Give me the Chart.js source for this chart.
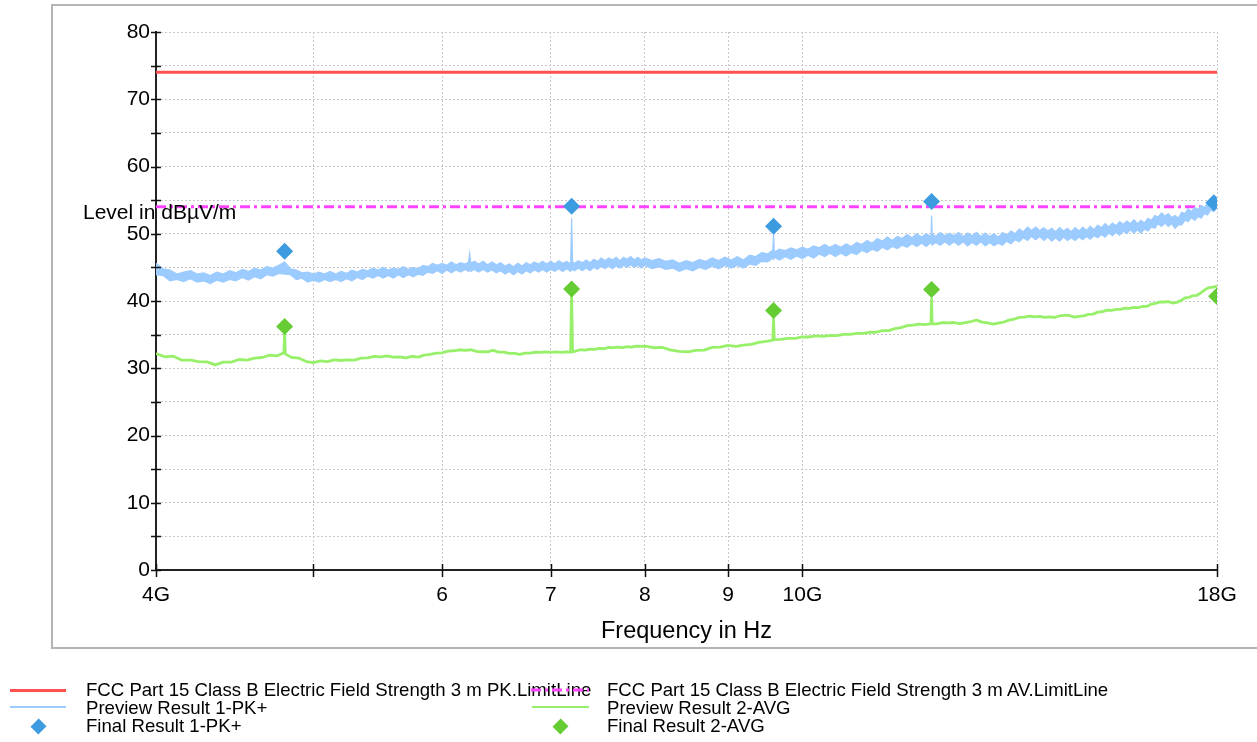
<!DOCTYPE html>
<html>
<head>
<meta charset="utf-8">
<script src="https://cdn.jsdelivr.net/npm/chart.js@4.4.1/dist/chart.umd.min.js"></script>
<style>
  html, body { margin: 0; padding: 0; background: #fff; }
  #wrap { position: relative; width: 1257px; height: 742px; overflow: hidden; }
  #c { position: absolute; left: 0; top: 0; }
  .lg { position: absolute; font-family: 'Liberation Sans', Arial, sans-serif; font-size: 18.6px; line-height: 18px; color: #000; white-space: nowrap; }
  .ln { position: absolute; height: 0; }
  .dm { position: absolute; width: 11px; height: 11px; transform: rotate(45deg) scaleY(1.05); }
</style>
</head>
<body>
<div id="wrap">
  <canvas id="c" width="1257" height="742"></canvas>
  <div class="ln" style="left:10px;top:688.5px;width:56px;border-top:3px solid #ff5050;"></div>
  <div class="lg" style="left:86px;top:681px;">FCC Part 15 Class B Electric Field Strength 3 m PK.LimitLine</div>
  <div class="ln" style="left:10px;top:706px;width:56px;border-top:2px solid #9ccbff;"></div>
  <div class="lg" style="left:86px;top:699px;">Preview Result 1-PK+</div>
  <div class="dm" style="left:32.5px;top:720.5px;background:#3d9be0;"></div>
  <div class="lg" style="left:86px;top:717px;">Final Result 1-PK+</div>
  <svg style="position:absolute;left:531px;top:686px;" width="58" height="8"><line x1="0" y1="4" x2="58" y2="4" stroke="#ff44ff" stroke-width="3" stroke-dasharray="10,4,3,4"/></svg>
  <div class="lg" style="left:607px;top:681px;">FCC Part 15 Class B Electric Field Strength 3 m AV.LimitLine</div>
  <div class="ln" style="left:532px;top:706px;width:57px;border-top:2px solid #98f06a;"></div>
  <div class="lg" style="left:607px;top:699px;">Preview Result 2-AVG</div>
  <div class="dm" style="left:554.5px;top:720.5px;background:#66cc33;"></div>
  <div class="lg" style="left:607px;top:717px;">Final Result 2-AVG</div>
</div>
<script>
// ---------- data (frequency in GHz, level in dBµV/m) ----------
const xTickValues = [4, 5, 6, 7, 8, 9, 10, 18];
const xTickLabels = ['4G', '', '6', '7', '8', '9', '10G', '18G'];
const yTickValues = [0, 5, 10, 15, 20, 25, 30, 35, 40, 45, 50, 55, 60, 65, 70, 75, 80];
const yTickLabels = ['0', '', '10', '', '20', '', '30', '', '40', '', '50', '', '60', '', '70', '', '80'];

const limitFreq = [4, 18];
const pkLimit = [74, 74];
const avLimit = [54, 54];

const pkFinalFreq = [4.80, 7.21, 9.60, 12.01, 17.92];
const pkFinalLevel = [47.4, 54.1, 51.1, 54.8, 54.6];
const avFinalFreq = [4.80, 7.21, 9.60, 12.01, 17.99];
const avFinalLevel = [36.2, 41.8, 38.6, 41.7, 40.7];

// Preview Result 1-PK+ : [frequency, lower edge of noise band, upper edge of noise band]
const pkPreviewBand = [
[4.00,43.9,45.6],[4.04,43.8,44.8],[4.08,43.0,44.6],[4.12,43.2,44.0],[4.16,42.9,44.3],[4.20,43.3,44.5],[4.24,42.8,44.0],[4.28,43.0,44.2],
[4.32,42.6,43.8],[4.36,43.1,44.3],[4.40,42.8,44.0],[4.44,43.2,44.5],[4.48,43.0,44.2],[4.52,43.5,44.7],[4.56,43.1,44.4],[4.60,43.6,44.9],
[4.64,43.3,44.6],[4.68,43.9,45.1],[4.72,43.7,44.9],[4.76,44.1,45.3],[4.80,44.0,45.8],[4.84,43.9,44.8],[4.88,43.2,44.6],[4.92,43.4,44.2],
[4.96,42.8,44.3],[5.00,43.1,44.0],[5.04,42.8,44.3],[5.08,43.2,44.0],[5.12,42.9,44.4],[5.16,43.2,44.0],[5.20,42.9,44.4],[5.24,43.3,44.1],
[5.28,43.0,44.6],[5.32,43.5,44.3],[5.36,43.2,44.7],[5.40,43.7,44.5],[5.44,43.4,44.9],[5.48,43.8,44.6],[5.52,43.4,45.0],[5.56,43.8,44.6],
[5.60,43.4,44.9],[5.64,43.9,44.7],[5.68,43.5,45.1],[5.72,43.9,44.7],[5.76,43.6,45.0],[5.80,44.0,44.8],[5.84,43.8,45.3],[5.88,44.3,45.1],
[5.92,44.1,45.6],[5.96,44.5,45.3],[6.00,44.1,45.6],[6.04,44.6,45.3],[6.08,44.2,45.8],[6.12,44.6,45.4],[6.16,44.3,45.7],[6.20,44.7,45.5],
[6.23,44.4,45.8],[6.24,44.7,47.1],[6.25,44.4,45.6],[6.28,44.7,45.9],[6.32,44.3,45.5],[6.36,44.7,45.9],[6.40,44.3,45.4],[6.44,44.6,45.8],
[6.48,44.2,45.4],[6.52,44.5,45.7],[6.56,44.0,45.2],[6.60,44.4,45.5],[6.64,43.9,45.1],[6.68,44.4,45.6],[6.72,44.0,45.2],[6.76,44.5,45.7],
[6.80,44.2,45.4],[6.84,44.6,45.8],[6.88,44.3,45.5],[6.92,44.7,45.9],[6.96,44.3,45.5],[7.00,44.7,45.9],[7.04,44.4,45.5],[7.08,44.8,46.0],
[7.12,44.4,45.6],[7.16,44.8,45.9],[7.20,44.4,45.5],[7.21,44.7,52.3],[7.22,44.7,45.8],[7.24,44.5,45.6],[7.28,44.9,46.0],[7.32,44.5,45.7],
[7.36,44.9,46.1],[7.40,44.5,45.7],[7.44,45.0,46.2],[7.48,44.7,45.9],[7.52,45.2,46.4],[7.56,44.8,46.0],[7.60,45.2,46.4],[7.64,44.8,46.1],
[7.68,45.2,46.5],[7.72,44.9,46.0],[7.76,45.3,46.5],[7.80,45.0,46.2],[7.84,45.4,46.6],[7.88,45.0,46.1],[7.92,45.3,46.5],[7.96,44.9,46.1],
[8.00,45.3,46.4],[8.08,44.8,46.0],[8.16,45.1,46.3],[8.24,44.7,45.9],[8.32,44.9,46.1],[8.40,44.4,45.6],[8.48,44.8,46.0],[8.56,44.5,45.7],
[8.64,45.0,46.2],[8.72,44.7,45.9],[8.80,45.2,46.4],[8.88,44.8,46.0],[8.96,45.3,46.5],[9.04,44.9,46.1],[9.12,45.3,46.6],[9.20,44.9,46.1],
[9.28,45.5,46.8],[9.36,45.3,46.6],[9.44,45.9,47.2],[9.52,45.8,47.0],[9.59,46.4,47.6],[9.60,46.2,50.2],[9.61,46.5,47.3],[9.68,46.1,47.7],
[9.76,46.6,47.5],[9.84,46.2,47.9],[9.92,46.7,47.6],[10.00,46.3,48.0],[10.08,46.8,47.7],[10.16,46.4,48.2],[10.24,47.0,47.9],[10.32,46.6,48.4],
[10.40,47.1,48.0],[10.48,46.6,48.4],[10.56,47.1,48.0],[10.64,46.7,48.5],[10.72,47.2,48.1],[10.80,46.9,48.7],[10.88,47.5,48.4],[10.96,47.2,49.0],
[11.04,47.7,48.6],[11.12,47.4,49.3],[11.20,48.0,48.9],[11.28,47.6,49.5],[11.36,48.1,49.0],[11.44,47.8,49.6],[11.52,48.3,49.3],[11.60,48.0,49.9],
[11.68,48.5,49.4],[11.76,48.1,50.0],[11.84,48.6,49.5],[11.92,48.1,50.0],[12.00,48.7,49.6],[12.01,48.5,52.7],[12.02,48.3,50.0],[12.08,48.7,49.6],
[12.16,48.3,50.2],[12.24,48.8,49.7],[12.32,48.3,50.1],[12.40,48.8,49.7],[12.48,48.3,50.2],[12.56,48.8,49.6],[12.64,48.2,50.1],[12.72,48.7,49.7],
[12.80,48.3,50.2],[12.88,48.8,49.6],[12.96,48.2,50.1],[13.04,48.7,49.6],[13.12,48.2,50.0],[13.20,48.6,49.5],[13.28,48.3,50.2],[13.36,48.9,49.8],
[13.44,48.5,50.4],[13.52,49.1,50.0],[13.60,48.8,50.7],[13.68,49.4,50.3],[13.76,49.0,51.0],[13.84,49.6,50.5],[13.92,49.1,51.0],[14.00,49.6,50.5],
[14.08,49.0,50.9],[14.16,49.5,50.4],[14.24,48.9,50.8],[14.32,49.4,50.3],[14.40,48.9,50.9],[14.48,49.5,50.4],[14.56,49.0,50.8],[14.64,49.4,50.3],
[14.72,49.0,50.9],[14.80,49.5,50.4],[14.88,49.1,51.0],[14.96,49.6,50.5],[15.04,49.2,51.1],[15.12,49.7,50.6],[15.20,49.4,51.3],[15.28,49.9,50.9],
[15.36,49.5,51.5],[15.44,50.1,51.0],[15.52,49.7,51.6],[15.60,50.2,51.2],[15.68,49.8,51.8],[15.76,50.4,51.4],[15.84,50.0,51.9],[15.92,50.6,51.5],
[16.00,50.1,52.1],[16.08,50.6,51.5],[16.16,50.1,52.0],[16.24,50.7,51.6],[16.32,50.4,52.3],[16.40,51.0,52.0],[16.48,50.8,52.7],[16.56,51.5,52.5],
[16.64,51.1,53.1],[16.72,51.6,52.6],[16.80,51.1,53.0],[16.88,51.5,52.4],[16.96,50.8,52.7],[17.04,51.3,52.3],[17.12,51.3,53.2],[17.20,52.0,53.0],
[17.28,51.8,53.7],[17.36,52.4,53.3],[17.44,52.0,53.9],[17.52,52.6,53.6],[17.60,52.3,54.2],[17.68,53.0,53.9],[17.76,52.8,54.6],[17.84,53.5,54.4],
[17.92,53.3,55.0],[18.00,54.0,55.1]
];

// Preview Result 2-AVG : [frequency, level]
const avPreview = [
[4.00,32.2],[4.05,31.7],[4.10,31.8],[4.15,31.2],[4.20,31.2],[4.25,31.0],[4.30,30.95],[4.35,30.5],[4.40,30.9],[4.45,30.9],
[4.50,31.3],[4.55,31.2],[4.60,31.5],[4.65,31.6],[4.70,31.95],[4.75,31.85],[4.795,32.3],[4.80,35.5],[4.805,32.1],[4.85,31.6],
[4.90,31.5],[4.95,31.0],[5.00,30.85],[5.05,31.1],[5.10,31.0],[5.15,31.25],[5.20,31.15],[5.25,31.25],[5.30,31.2],[5.35,31.5],
[5.40,31.55],[5.45,31.75],[5.50,31.7],[5.55,31.85],[5.60,31.65],[5.65,31.7],[5.70,31.55],[5.75,31.75],[5.80,31.65],[5.85,31.95],
[5.90,32.05],[5.95,32.25],[6.00,32.3],[6.05,32.55],[6.10,32.6],[6.15,32.75],[6.20,32.65],[6.25,32.75],[6.30,32.5],[6.35,32.45],
[6.40,32.45],[6.45,32.65],[6.50,32.4],[6.55,32.4],[6.60,32.2],[6.65,32.2],[6.70,32.05],[6.75,32.25],[6.80,32.25],[6.85,32.4],
[6.90,32.35],[6.95,32.45],[7.00,32.35],[7.05,32.45],[7.10,32.35],[7.15,32.45],[7.20,32.4],[7.21,41.3],[7.22,32.45],[7.25,32.55],
[7.30,32.75],[7.35,32.7],[7.40,32.85],[7.45,32.8],[7.50,32.95],[7.55,32.9],[7.60,33.1],[7.65,33.05],[7.70,33.15],[7.75,33.05],
[7.80,33.2],[7.85,33.15],[7.90,33.3],[7.95,33.25],[8.00,33.3],[8.10,33.05],[8.20,33.1],[8.30,32.7],[8.40,32.5],[8.50,32.45],
[8.60,32.65],[8.70,32.7],[8.80,33.1],[8.90,33.15],[9.00,33.4],[9.10,33.25],[9.20,33.45],[9.30,33.55],[9.40,33.85],[9.50,34.0],
[9.59,34.2],[9.60,37.3],[9.61,34.25],[9.70,34.3],[9.80,34.45],[9.90,34.45],[10.00,34.65],[10.10,34.65],[10.20,34.8],[10.30,34.75],
[10.40,34.9],[10.50,34.85],[10.60,35.05],[10.70,35.05],[10.80,35.2],[10.90,35.2],[11.00,35.35],[11.10,35.35],[11.20,35.6],[11.30,35.6],
[11.40,35.9],[11.50,36.05],[11.60,36.35],[11.70,36.4],[11.80,36.55],[11.90,36.5],[12.00,36.65],[12.01,40.3],[12.02,36.6],[12.10,36.6],
[12.20,36.8],[12.30,36.75],[12.40,36.8],[12.50,36.65],[12.60,36.8],[12.70,36.95],[12.80,37.15],[12.90,36.85],[13.00,36.75],[13.10,36.55],
[13.20,36.7],[13.30,36.85],[13.40,37.15],[13.50,37.3],[13.60,37.55],[13.70,37.6],[13.80,37.75],[13.90,37.65],[14.00,37.7],[14.10,37.55],
[14.20,37.65],[14.30,37.55],[14.40,37.8],[14.50,37.85],[14.60,37.85],[14.70,37.6],[14.80,37.7],[14.90,37.8],[15.00,38.0],[15.10,38.05],
[15.20,38.35],[15.30,38.4],[15.40,38.65],[15.50,38.6],[15.60,38.75],[15.70,38.75],[15.80,38.95],[15.90,38.9],[16.00,39.05],[16.10,39.0],
[16.20,39.2],[16.30,39.2],[16.40,39.55],[16.50,39.65],[16.60,39.85],[16.70,39.85],[16.80,39.9],[16.90,39.7],[17.00,39.8],[17.10,40.05],
[17.20,40.45],[17.30,40.55],[17.40,40.8],[17.50,40.85],[17.60,41.25],[17.70,41.7],[17.80,42.0],[17.90,42.05],[18.00,42.2]
];

// ---------- chart ----------
const FONT = "'Liberation Sans', Arial, sans-serif";
Chart.defaults.font.family = FONT;
Chart.defaults.color = '#000';

const zipXY = (xs, ys) => xs.map((x, i) => ({ x: x, y: ys[i] }));
const pairsXY = (arr) => arr.map(p => ({ x: p[0], y: p[1] }));
const bandLo = (arr) => arr.map(p => ({ x: p[0], y: p[1] }));
const bandHi = (arr) => arr.map(p => ({ x: p[0], y: p[2] }));

const PK_BLUE = '#9ccbff';

const framePlugin = {
  id: 'frame',
  beforeDraw(chart) {
    const ctx = chart.ctx;
    ctx.save();
    ctx.strokeStyle = '#b4b4b4';
    ctx.lineWidth = 2;
    ctx.strokeRect(52, 5, 1230, 643);
    ctx.restore();
  }
};

const axisDecor = {
  id: 'axisDecor',
  afterDraw(chart) {
    const ctx = chart.ctx;
    const xs = chart.scales.x, ys = chart.scales.y;
    const a = chart.chartArea;
    ctx.save();
    ctx.strokeStyle = '#111';
    ctx.lineWidth = 1.5;
    ctx.beginPath();
    ys.ticks.forEach((t, i) => {
      const py = Math.round(ys.getPixelForTick(i)) + 0.5;
      ctx.moveTo(a.left - 5, py); ctx.lineTo(a.left + 5, py);
    });
    xs.ticks.forEach((t, i) => {
      const px = Math.round(xs.getPixelForTick(i)) + 0.5;
      ctx.moveTo(px, a.bottom - 6); ctx.lineTo(px, a.bottom + 7);
    });
    ctx.stroke();
    ctx.fillStyle = '#000';
    ctx.font = '21px ' + FONT;
    ctx.textBaseline = 'middle';
    ctx.textAlign = 'left';
    ctx.fillText('Level in dBµV/m', 83, 213);
    ctx.restore();
  }
};

new Chart(document.getElementById('c'), {
  type: 'line',
  data: {
    datasets: [
      { label: 'Final Result 1-PK+', data: zipXY(pkFinalFreq, pkFinalLevel), showLine: false,
        pointStyle: 'rectRot', pointRadius: 8.5, pointBackgroundColor: '#3d9be0', pointBorderColor: '#3d9be0', pointBorderWidth: 0, order: 0 },
      { label: 'Final Result 2-AVG', data: zipXY(avFinalFreq, avFinalLevel), showLine: false,
        pointStyle: 'rectRot', pointRadius: 8.5, pointBackgroundColor: '#66cc33', pointBorderColor: '#66cc33', pointBorderWidth: 0, order: 1 },
      { label: 'Preview Result 1-PK+ (low)', data: bandLo(pkPreviewBand), borderColor: PK_BLUE, borderWidth: 1.2,
        pointRadius: 0, tension: 0, fill: false, order: 2 },
      { label: 'Preview Result 1-PK+', data: bandHi(pkPreviewBand), borderColor: PK_BLUE, borderWidth: 1.2,
        backgroundColor: PK_BLUE, pointRadius: 0, tension: 0, fill: '-1', order: 2 },
      { label: 'Preview Result 2-AVG', data: pairsXY(avPreview), borderColor: '#98f06a', borderWidth: 2.8,
        pointRadius: 0, tension: 0, borderJoinStyle: 'round', order: 3 },
      { label: 'FCC Part 15 Class B Electric Field Strength 3 m AV.LimitLine', data: zipXY(limitFreq, avLimit),
        borderColor: '#ff44ff', borderWidth: 3, borderDash: [10, 4, 3, 4], pointRadius: 0, order: 4 },
      { label: 'FCC Part 15 Class B Electric Field Strength 3 m PK.LimitLine', data: zipXY(limitFreq, pkLimit),
        borderColor: '#ff5050', borderWidth: 3, pointRadius: 0, order: 5 }
    ]
  },
  options: {
    responsive: false,
    animation: false,
    events: [],
    layout: { padding: { top: 32, right: 40, bottom: 0, left: 0 } },
    plugins: { legend: { display: false }, tooltip: { enabled: false } },
    scales: {
      x: {
        type: 'logarithmic', min: 4, max: 18,
        afterBuildTicks: s => { s.ticks = xTickValues.map(v => ({ value: v })); },
        afterFit: s => { s.height = 172; },
        ticks: { callback: (v, i) => xTickLabels[i], autoSkip: false, maxRotation: 0, minRotation: 0,
                 padding: 13, color: '#000', font: { size: 21 } },
        grid: { color: '#c8c8c8', lineWidth: 1, drawTicks: false },
        border: { display: true, color: '#222', width: 2, dash: [2, 2] },
        title: { display: true, text: 'Frequency in Hz', color: '#000', font: { size: 23.5 }, padding: { top: 0, bottom: 96 } }
      },
      y: {
        min: 0, max: 80,
        afterBuildTicks: s => { s.ticks = yTickValues.map(v => ({ value: v })); },
        afterFit: s => { s.width = 156; },
        ticks: { callback: (v, i) => yTickLabels[i], autoSkip: false, padding: 6, color: '#000', font: { size: 21 } },
        grid: { color: '#c8c8c8', lineWidth: 1, drawTicks: false },
        border: { display: true, color: '#222', width: 2, dash: [2, 2] }
      }
    }
  },
  plugins: [framePlugin, axisDecor]
});
</script>
</body>
</html>
